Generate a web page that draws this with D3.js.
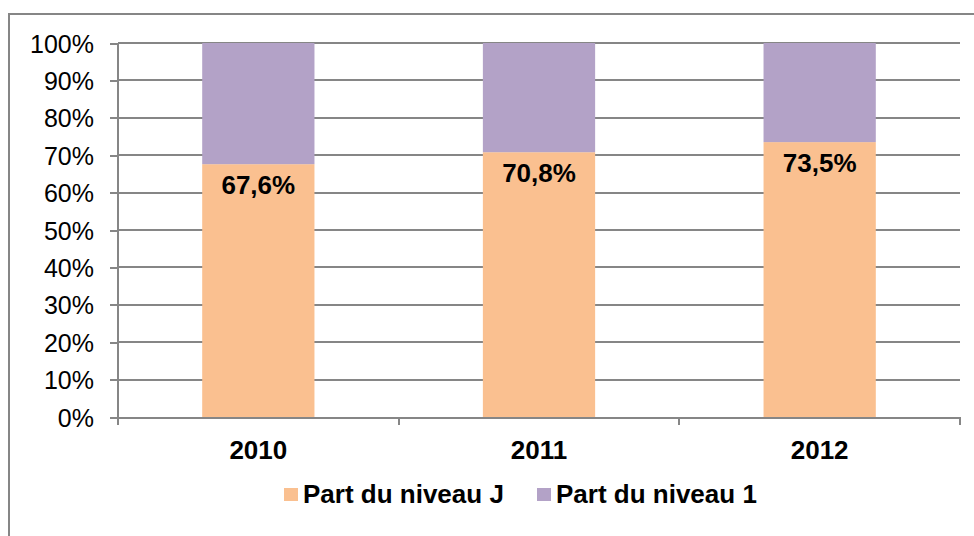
<!DOCTYPE html>
<meta charset="utf-8">
<style>
body { margin: 0; background: #fff; }
svg { font-family: Arial, "Liberation Sans", sans-serif; }
.axis path, .axis line { stroke: #868686; stroke-width: 2px; shape-rendering: crispEdges; }
.grid line { stroke: #868686; stroke-width: 2px; shape-rendering: crispEdges; }
.axis--y text { font-size: 25px; fill: #000; }
.axis--x text { font-size: 26px; font-weight: bold; fill: #000; }
.label { font-size: 26px; font-weight: bold; fill: #000; }
.legend text { font-size: 26px; font-weight: bold; fill: #000; }
</style>
<body>
<div id="chart"></div>
<script src="https://cdn.jsdelivr.net/npm/d3@7"></script>
<script>
var years = ["2010", "2011", "2012"];
var partJ = [67.6, 70.8, 73.5];
var part1 = [32.4, 29.2, 26.5];
var yTicks = [0, 10, 20, 30, 40, 50, 60, 70, 80, 90, 100];
var seriesNames = ["Part du niveau J", "Part du niveau 1"];
var colors = ["#FAC090", "#B3A2C7"];

var W = 974, H = 536,
    margin = {top: 43, right: 14, bottom: 119, left: 118},
    width = W - margin.left - margin.right,
    height = H - margin.top - margin.bottom;

var svg = d3.select("#chart").append("svg")
    .attr("width", W).attr("height", H);

// outer chart border
svg.append("rect")
    .attr("x", 9).attr("y", 14)
    .attr("width", W + 20).attr("height", H + 20)
    .attr("fill", "none").attr("stroke", "#868686").attr("stroke-width", 2);

var g = svg.append("g").attr("transform", "translate(" + margin.left + "," + margin.top + ")");

var x = d3.scaleBand().domain(years).range([0, width]).paddingInner(0.6).paddingOuter(0.3);
var xCat = d3.scaleBand().domain(years).range([0, width]);
var y = d3.scaleLinear().domain([0, 100]).range([height, 0]);

g.append("g").attr("class", "grid")
  .selectAll("line").data(yTicks.slice(1)).enter().append("line")
    .attr("x1", 0).attr("x2", width)
    .attr("y1", function(d) { return y(d); }).attr("y2", function(d) { return y(d); });

var data = years.map(function(yr, i) { return {year: yr, j: partJ[i], n1: part1[i]}; });
var layers = d3.stack().keys(["j", "n1"])(data);

g.selectAll(".layer").data(layers).enter().append("g")
    .attr("class", "layer")
    .attr("fill", function(d, i) { return colors[i]; })
  .selectAll("rect").data(function(d) { return d; }).enter().append("rect")
    .attr("x", function(d) { return x(d.data.year); })
    .attr("width", x.bandwidth())
    .attr("y", function(d) { return y(d[1]); })
    .attr("height", function(d) { return y(d[0]) - y(d[1]); });

g.selectAll(".label").data(data).enter().append("text")
    .attr("class", "label")
    .attr("x", function(d) { return x(d.year) + x.bandwidth() / 2; })
    .attr("y", function(d) { return y(d.j) + 30; })
    .attr("text-anchor", "middle")
    .text(function(d) { return d.j.toFixed(1).replace(".", ",") + "%"; });

var yAxis = d3.axisLeft(y).tickValues(yTicks).tickSize(8).tickPadding(16)
    .tickFormat(function(d) { return d + "%"; });
g.append("g").attr("class", "axis axis--y").call(yAxis)
  .call(function(s) { s.select(".domain").remove(); });
g.append("line").attr("class", "axis-line")
    .attr("x1", 0).attr("x2", 0).attr("y1", 0).attr("y2", height + 8)
    .attr("stroke", "#868686").attr("stroke-width", 2);
g.selectAll(".axis--y text").attr("dy", "0.36em");

var xAxis = d3.axisBottom(xCat).tickValues([]).tickSize(0).tickSizeOuter(0);
var xg = g.append("g").attr("class", "axis axis--x").attr("transform", "translate(0," + height + ")").call(xAxis);
xg.selectAll(".tk").data(d3.range(years.length + 1)).enter().append("line")
    .attr("x1", function(i) { return i * xCat.step(); })
    .attr("x2", function(i) { return i * xCat.step(); })
    .attr("y1", 0).attr("y2", 8);
xg.selectAll(".yr").data(years).enter().append("text")
    .attr("x", function(d) { return xCat(d) + xCat.bandwidth() / 2; })
    .attr("y", 42)
    .attr("text-anchor", "middle")
    .text(function(d) { return d; });

var legend = svg.append("g").attr("class", "legend");
var lx = [284, 537];
seriesNames.forEach(function(name, i) {
  legend.append("rect").attr("x", lx[i]).attr("y", 488).attr("width", 14).attr("height", 13).attr("fill", colors[i]);
  legend.append("text").attr("x", lx[i] + 19).attr("y", 503).text(name);
});
</script>
</body>
